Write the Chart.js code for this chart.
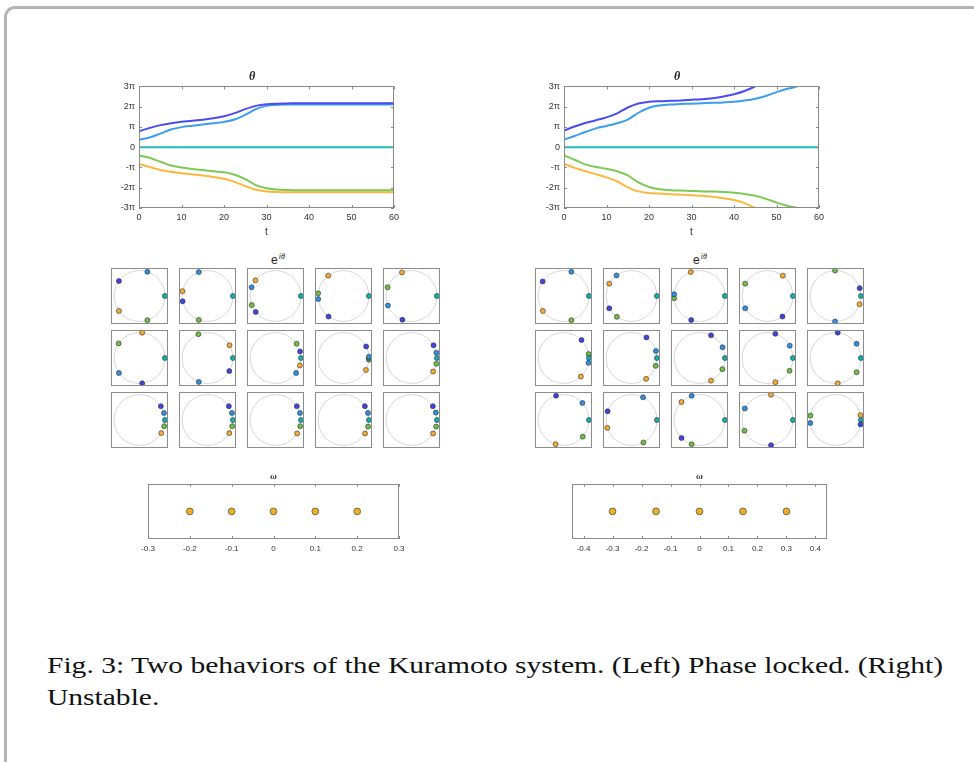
<!DOCTYPE html>
<html>
<head>
<meta charset="utf-8">
<script src="https://cdn.jsdelivr.net/npm/chart.js@4.4.1/dist/chart.umd.min.js"></script>
<style>
  body { margin: 0; background: #fff; width: 974px; height: 762px; overflow: hidden; position: relative; }
  #frame { position: absolute; left: 4px; top: 6px; width: 1000px; height: 800px; border: 3px solid #b4b4b4; border-radius: 11px; }
  canvas { position: absolute; }
  .gtitle { position: absolute; transform: translate(-50%, -50%); font: 12px "Liberation Sans", Arial, sans-serif; color: #222; }
  .gtitle sup { font: italic 8px "Liberation Serif", serif; margin-left: 1px; }
  .cap { position: absolute; left: 47px; font: 24px "Liberation Serif", "DejaVu Serif", serif; line-height: 32px; color: #111; white-space: nowrap; }
  .cap span { display: inline-block; transform-origin: 0 50%; }
</style>
</head>
<body>
<div id="frame"></div>
<div class="gtitle" style="left:278px; top:259px">e<sup>iθ</sup></div>
<div class="gtitle" style="left:700px; top:259px">e<sup>iθ</sup></div>
<div class="cap" style="top:649px"><span id="cap1">Fig. 3: Two behaviors of the Kuramoto system. (Left) Phase locked. (Right)</span></div>
<div class="cap" style="top:681px"><span id="cap2">Unstable.</span></div>

<script>
/* 時間軸 (theta のグラフ) */
const tTheta = [0,2.5,5,7.5,10,12.5,15,17.5,20,22.5,25,27.5,30,32.5,35,37.5,40,42.5,45,47.5,50,52.5,55,57.5,60];
const tTicks = [0,10,20,30,40,50,60];
const piTicks = [-3,-2,-1,0,1,2,3];

/* 左: phase locked (単位は π) */
const lockTheta1 = [0.79,0.95,1.09,1.18,1.25,1.30,1.36,1.43,1.53,1.68,1.88,2.04,2.12,2.15,2.16,2.17,2.17,2.17,2.17,2.17,2.17,2.17,2.17,2.17,2.17];
const lockTheta2 = [0.37,0.48,0.67,0.87,0.99,1.06,1.12,1.18,1.25,1.37,1.60,1.88,2.04,2.09,2.11,2.11,2.11,2.11,2.11,2.11,2.11,2.11,2.11,2.11,2.11];
const lockTheta3 = [0,0,0,0,0,0,0,0,0,0,0,0,0,0,0,0,0,0,0,0,0,0,0,0,0];
const lockTheta4 = [-0.41,-0.52,-0.72,-0.90,-1.00,-1.07,-1.13,-1.19,-1.24,-1.36,-1.58,-1.87,-2.03,-2.09,-2.11,-2.12,-2.12,-2.12,-2.12,-2.12,-2.12,-2.12,-2.12,-2.12,-2.12];
const lockTheta5 = [-0.83,-0.98,-1.12,-1.21,-1.28,-1.34,-1.40,-1.47,-1.56,-1.71,-1.92,-2.10,-2.18,-2.21,-2.22,-2.22,-2.22,-2.22,-2.22,-2.22,-2.22,-2.22,-2.22,-2.22,-2.22];

/* 右: unstable (単位は π, 3π で打ち切り) */
const unstTheta1 = [0.82,1.02,1.19,1.33,1.47,1.67,1.96,2.16,2.24,2.27,2.29,2.31,2.34,2.37,2.42,2.50,2.61,2.77,3.0,null,null,null,null,null,null];
const unstTheta2 = [0.38,0.55,0.75,0.93,1.05,1.18,1.36,1.70,1.95,2.06,2.11,2.13,2.15,2.17,2.19,2.21,2.24,2.30,2.39,2.53,2.72,2.88,3.0,null,null];
const unstTheta3 = [0,0,0,0,0,0,0,0,0,0,0,0,0,0,0,0,0,0,0,0,0,0,0,0,0];
const unstTheta4 = [-0.41,-0.62,-0.85,-0.98,-1.06,-1.19,-1.39,-1.74,-1.96,-2.07,-2.12,-2.14,-2.16,-2.18,-2.19,-2.21,-2.25,-2.31,-2.40,-2.55,-2.73,-2.89,-3.0,null,null];
const unstTheta5 = [-0.82,-1.02,-1.18,-1.33,-1.49,-1.68,-1.98,-2.18,-2.26,-2.29,-2.32,-2.34,-2.37,-2.40,-2.45,-2.52,-2.61,-2.76,-3.0,null,null,null,null,null,null];

/* e^{iθ} のスナップショット (角度, 度) 15枚 */
const lockPhase1 = [144,192,219,234,249,276,329,15,27,30,33,33,33,33,33];
const lockPhase2 = [72,110,160,187,202,216,250,324,3,12,16,16,16,16,17];
const lockPhase3 = [0,0,0,0,0,0,0,0,0,0,0,0,0,0,0];
const lockPhase4 = [288,250,201,174,160,145,111,34,356,347,346,346,346,345,345];
const lockPhase5 = [216,169,142,127,112,84,30,343,332,328,329,329,328,328,328];

const unstPhase1 = [145,209,251,306,18,45,54,63,72,85,107,160,225,278,350];
const unstPhase2 = [72,126,176,209,269,349,16,25,29,34,42,63,108,153,187];
const unstPhase3 = [0,0,0,0,0,0,0,0,0,0,0,0,0,0,0];
const unstPhase4 = [288,235,185,151,91,9,342,334,330,326,319,298,252,205,170];
const unstPhase5 = [216,151,110,53,341,313,305,297,288,275,252,198,135,82,11];

/* ω (固有振動数) */
const omegaLeft = [-0.2,-0.1,0,0.1,0.2];
const omegaRight = [-0.3,-0.15,0,0.15,0.3];
const omegaTicksLeft = [-0.3,-0.2,-0.1,0,0.1,0.2,0.3];
const omegaTicksRight = [-0.4,-0.3,-0.2,-0.1,0,0.1,0.2,0.3,0.4];

const lineColors = ['#4a4cef','#3a9eef','#1bbcbc','#7cca55','#fdb73c'];
const dotColors = ['#3f45e0','#2f90e2','#17aeae','#6fbe48','#f5ab33'];
const FONT = '"Liberation Sans", Arial, sans-serif';

/* キャプションの1行目を枠幅 (896px) に合わせる */
const cap1 = document.getElementById('cap1');
const capScale = 896 / cap1.getBoundingClientRect().width;
cap1.style.transform = 'scaleX(' + capScale + ')';
document.getElementById('cap2').style.transform = 'scaleX(' + capScale + ')';

/* 枠と内向きの目盛り */
const framePlugin = {
  id: 'frame',
  afterDraw(chart, args, opts) {
    const {ctx, chartArea: a, scales} = chart;
    ctx.save();
    ctx.strokeStyle = opts.color || '#8a8a8a';
    ctx.lineWidth = 1;
    ctx.strokeRect(Math.round(a.left) + 0.5, Math.round(a.top) + 0.5, Math.round(a.width) - 1, Math.round(a.height) - 1);
    if (opts.ticks) {
      ctx.beginPath();
      scales.x.ticks.forEach(t => {
        const px = Math.round(scales.x.getPixelForValue(t.value)) + 0.5;
        ctx.moveTo(px, a.bottom); ctx.lineTo(px, a.bottom - 3);
        ctx.moveTo(px, a.top); ctx.lineTo(px, a.top + 3);
      });
      if (scales.y.options.display) {
        scales.y.ticks.forEach(t => {
          const py = Math.round(scales.y.getPixelForValue(t.value)) + 0.5;
          ctx.moveTo(a.left, py); ctx.lineTo(a.left + 3, py);
          ctx.moveTo(a.right, py); ctx.lineTo(a.right - 3, py);
        });
      }
      ctx.stroke();
    }
    ctx.restore();
  }
};

/* 単位円 */
const circlePlugin = {
  id: 'unitCircle',
  beforeDatasetsDraw(chart) {
    const {ctx, scales: {x, y}} = chart;
    const cx = x.getPixelForValue(0), cy = y.getPixelForValue(0);
    const r = x.getPixelForValue(1) - cx;
    ctx.save();
    ctx.strokeStyle = '#d6d6d6';
    ctx.lineWidth = 1;
    ctx.beginPath();
    ctx.arc(cx, cy, r, 0, Math.PI * 2);
    ctx.stroke();
    ctx.restore();
  }
};

function addCanvas(left, top, w, h) {
  const c = document.createElement('canvas');
  c.width = w; c.height = h;
  c.style.left = left + 'px'; c.style.top = top + 'px';
  c.style.width = w + 'px'; c.style.height = h + 'px';
  document.body.appendChild(c);
  return c.getContext('2d');
}

function piLabel(v) {
  if (v === 0) return '0';
  if (v === 1) return 'π';
  if (v === -1) return '-π';
  return v + 'π';
}

// ラベルのはみ出し分で枠がずれないようにする
function noLabelPad(s) {
  s.paddingLeft = 0; s.paddingRight = 0; s.paddingTop = 0; s.paddingBottom = 0;
}

function thetaChart(left, series) {
  const ctx = addCanvas(left, 70, 300, 170);
  new Chart(ctx, {
    type: 'line',
    data: {
      datasets: series.map((arr, k) => ({
        data: tTheta.map((t, i) => ({x: t, y: arr[i]})),
        borderColor: lineColors[k],
        borderWidth: 2,
        pointRadius: 0,
        cubicInterpolationMode: 'monotone',
        fill: false
      }))
    },
    options: {
      responsive: false,
      animation: false,
      events: [],
      layout: {padding: {left: 0, right: 16, top: 0, bottom: 0}},
      scales: {
        x: {
          type: 'linear', min: 0, max: 60,
          afterBuildTicks: s => { s.ticks = tTicks.map(v => ({value: v})); },
          afterFit: s => { s.height = 32; noLabelPad(s); },
          ticks: {font: {size: 9, family: FONT}, color: '#333', padding: 4, maxRotation: 0},
          grid: {display: false, drawTicks: false},
          border: {display: false},
          title: {display: true, text: 't', font: {size: 10, family: FONT}, color: '#333', padding: {top: 0, bottom: 2}}
        },
        y: {
          type: 'linear', min: -3, max: 3,
          afterBuildTicks: s => { s.ticks = piTicks.map(v => ({value: v})); },
          afterFit: s => { s.width = 29; noLabelPad(s); },
          ticks: {font: {size: 9, family: FONT}, color: '#333', padding: 4, callback: piLabel},
          grid: {display: false, drawTicks: false},
          border: {display: false}
        }
      },
      plugins: {
        legend: {display: false},
        tooltip: {enabled: false},
        title: {display: true, text: 'θ', color: '#222', font: {size: 12, style: 'italic', family: '"Liberation Serif", serif'}, padding: {top: 0, bottom: 2}},
        frame: {color: '#8a8a8a', ticks: true}
      }
    },
    plugins: [framePlugin]
  });
}

const TILE_PAD = 8;
function phaseTile(left, top, angles) {
  const ctx = addCanvas(left - TILE_PAD, top - TILE_PAD, 57 + 2 * TILE_PAD, 56 + 2 * TILE_PAD);
  new Chart(ctx, {
    type: 'scatter',
    data: {
      datasets: angles.map((deg, k) => ({
        data: [{x: Math.cos(deg * Math.PI / 180), y: Math.sin(deg * Math.PI / 180)}],
        backgroundColor: dotColors[k],
        borderColor: 'rgba(45,45,45,0.85)',
        borderWidth: 0.7,
        pointRadius: 2.5,
        clip: false
      }))
    },
    options: {
      responsive: false,
      animation: false,
      events: [],
      layout: {padding: TILE_PAD},
      scales: {
        x: {display: false, min: -1.12, max: 1.12},
        y: {display: false, min: -1.1, max: 1.1}
      },
      plugins: {legend: {display: false}, tooltip: {enabled: false}, frame: {color: '#8c8c8c'}}
    },
    plugins: [circlePlugin, framePlugin]
  });
}

function phaseGrid(x0, phases) {
  for (let i = 0; i < 15; i++) {
    const col = i % 5, row = Math.floor(i / 5);
    phaseTile(x0 + col * 68, 268 + row * 62, phases.map(p => p[i]));
  }
}

function omegaChart(left, vals, ticks, lim, padL, padR) {
  const ctx = addCanvas(left, 470, 270, 90);
  new Chart(ctx, {
    type: 'scatter',
    data: {
      datasets: [{
        data: vals.map(v => ({x: v, y: 0})),
        backgroundColor: '#edb120',
        borderColor: '#555',
        borderWidth: 0.8,
        pointRadius: 3.4
      }]
    },
    options: {
      responsive: false,
      animation: false,
      events: [],
      layout: {padding: {left: padL, right: padR, top: 0, bottom: 0}},
      scales: {
        x: {
          type: 'linear', min: -lim, max: lim,
          afterBuildTicks: s => { s.ticks = ticks.map(v => ({value: v})); },
          afterFit: s => { s.height = 21; noLabelPad(s); },
          ticks: {font: {size: 8, family: FONT}, color: '#333', padding: 5, maxRotation: 0,
                  callback: v => String(+v.toFixed(2))},
          grid: {display: false, drawTicks: false},
          border: {display: false}
        },
        y: {display: false, min: -1, max: 1}
      },
      plugins: {
        legend: {display: false},
        tooltip: {enabled: false},
        title: {display: true, text: 'ω', color: '#222', font: {size: 9, style: 'italic', family: '"Liberation Serif", serif'}, padding: {top: 1, bottom: 2}},
        frame: {color: '#8a8a8a', ticks: true}
      }
    },
    plugins: [framePlugin]
  });
}

thetaChart(110, [lockTheta1, lockTheta2, lockTheta3, lockTheta4, lockTheta5]);
thetaChart(535, [unstTheta1, unstTheta2, unstTheta3, unstTheta4, unstTheta5]);
phaseGrid(111, [lockPhase1, lockPhase2, lockPhase3, lockPhase4, lockPhase5]);
phaseGrid(535, [unstPhase1, unstPhase2, unstPhase3, unstPhase4, unstPhase5]);
omegaChart(140, omegaLeft, omegaTicksLeft, 0.3, 8, 11);
omegaChart(565, omegaRight, omegaTicksRight, 0.44, 7, 8);
</script>
</body>
</html>
